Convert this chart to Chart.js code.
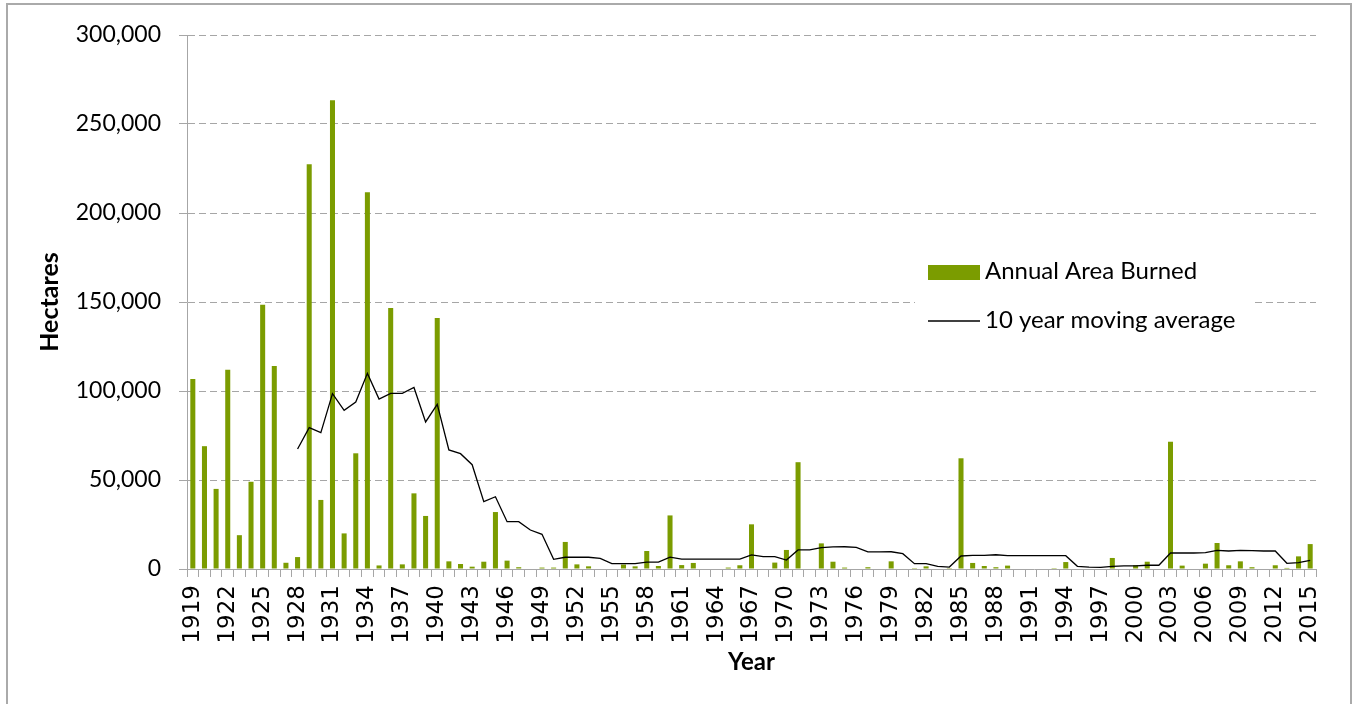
<!DOCTYPE html>
<html>
<head>
<meta charset="utf-8">
<script src="https://cdn.jsdelivr.net/npm/chart.js@4.4.1/dist/chart.umd.min.js"></script>
<style>
    html, body { margin: 0; padding: 0; background: #ffffff; }
    canvas { display: block; }
</style>
</head>
<body>
<canvas id="fireChart" width="1357" height="704"></canvas>
<script>

/* =========================
   DATA
========================= */

const years = [
    1919, 1920, 1921, 1922, 1923, 1924, 1925, 1926, 1927, 1928,
    1929, 1930, 1931, 1932, 1933, 1934, 1935, 1936, 1937, 1938,
    1939, 1940, 1941, 1942, 1943, 1944, 1945, 1946, 1947, 1948,
    1949, 1950, 1951, 1952, 1953, 1954, 1955, 1956, 1957, 1958,
    1959, 1960, 1961, 1962, 1963, 1964, 1965, 1966, 1967, 1968,
    1969, 1970, 1971, 1972, 1973, 1974, 1975, 1976, 1977, 1978,
    1979, 1980, 1981, 1982, 1983, 1984, 1985, 1986, 1987, 1988,
    1989, 1990, 1991, 1992, 1993, 1994, 1995, 1996, 1997, 1998,
    1999, 2000, 2001, 2002, 2003, 2004, 2005, 2006, 2007, 2008,
    2009, 2010, 2011, 2012, 2013, 2014, 2015
];

const areaBurned = [
    106700, 69000, 45000, 112000, 19000, 49000, 148500, 114000, 3500, 6700,
    227400, 38800, 263300, 20000, 65000, 211600, 2000, 146600, 2600, 42500,
    29800, 141000, 4300, 2800, 1300, 4100, 32000, 4700, 1000, 0,
    800, 800, 15200, 2600, 1500, 0, 0, 2500, 1500, 10100,
    1700, 30100, 2200, 3400, 0, 0, 800, 2100, 25100, 0,
    3600, 10700, 60000, 0, 14400, 4100, 800, 0, 1000, 0,
    4300, 0, 500, 1500, 0, 500, 62200, 3400, 1700, 1000,
    1900, 0, 0, 0, 500, 3900, 0, 0, 0, 6200,
    0, 2100, 4100, 0, 71500, 1900, 0, 3000, 14600, 2100,
    4300, 1000, 0, 2100, 600, 7100, 14000
];

const movingAverage = [
    null, null, null, null, null, null, null, null, null, 67400,
    79400, 76600, 98500, 89100, 93800, 109900, 95500, 98700, 98700, 102000,
    82600, 92500, 66900, 64800, 58600, 37800, 40600, 26600, 26600, 21900,
    19500, 5400, 6600, 6600, 6600, 6000, 3000, 3000, 3000, 3900,
    3900, 6700, 5600, 5600, 5600, 5600, 5600, 5600, 7900, 6900,
    6900, 5000, 10700, 10700, 12000, 12400, 12500, 12200, 9600, 9600,
    9700, 8600, 3000, 3000, 1500, 1100, 7300, 7700, 7700, 8000,
    7500, 7500, 7500, 7500, 7500, 7500, 1500, 1100, 900, 1500,
    1700, 1800, 2100, 2100, 9000, 9000, 9000, 9200, 10500, 10100,
    10500, 10300, 10100, 10100, 3200, 3600, 4900
];

const yTicks = [0, 50000, 100000, 150000, 200000, 250000, 300000];

const barLabel = 'Annual Area Burned';
const lineLabel = '10 year moving average';

/* =========================
   STYLE
========================= */

const BAR_COLOR = '#7b9c00';
const GRID_COLOR = '#a6a6a6';

Chart.defaults.font.family = 'Lato';
Chart.defaults.color = '#000000';

/* =========================
   PLUGINS
========================= */

const outerBorder = {
    id: 'outerBorder',
    beforeDraw(chart) {
        const ctx = chart.ctx;
        ctx.save();
        ctx.strokeStyle = '#aaaaaa';
        ctx.lineWidth = 2;
        ctx.strokeRect(7, 4, chart.width - 13, chart.height + 10);
        ctx.restore();
    }
};

const boxLegend = {
    id: 'boxLegend',
    afterDraw(chart) {
        const ctx = chart.ctx;
        const area = chart.chartArea;
        const x0 = area.left + 741;
        const y0 = area.top + 217;

        ctx.save();

        ctx.fillStyle = '#ffffff';
        ctx.fillRect(x0 - 13, y0 - 10, 340, 90);

        ctx.fillStyle = BAR_COLOR;
        ctx.fillRect(x0, y0 + 13, 52, 15);

        ctx.strokeStyle = '#000000';
        ctx.lineWidth = 1.3;
        ctx.beginPath();
        ctx.moveTo(x0, y0 + 69);
        ctx.lineTo(x0 + 52, y0 + 69);
        ctx.stroke();

        ctx.fillStyle = '#000000';
        ctx.font = '24px Lato';
        ctx.textBaseline = 'alphabetic';
        ctx.textAlign = 'left';
        ctx.fillText(barLabel, x0 + 57, y0 + 27);
        ctx.fillText(lineLabel, x0 + 57, y0 + 76);

        ctx.restore();
    }
};

/* =========================
   CHART
========================= */

const context = document.getElementById('fireChart').getContext('2d');

new Chart(context, {

    type: 'bar',

    data: {
        labels: years,
        datasets: [
            {
                type: 'line',
                label: lineLabel,
                data: movingAverage,
                borderColor: '#000000',
                borderWidth: 1.3,
                pointRadius: 0,
                tension: 0,
                spanGaps: false,
                order: 0
            },
            {
                type: 'bar',
                label: barLabel,
                data: areaBurned,
                backgroundColor: BAR_COLOR,
                barPercentage: 0.9,
                categoryPercentage: 0.48,
                order: 1
            }
        ]
    },

    options: {
        responsive: false,
        animation: false,
        devicePixelRatio: 1,

        layout: {
            padding: { left: 0, top: 35, right: 41, bottom: 0 }
        },

        plugins: {
            legend: { display: false },
            tooltip: { enabled: false }
        },

        scales: {

            x: {
                afterFit(scale) {
                    scale.height = 135;
                },
                grid: {
                    drawOnChartArea: false,
                    offset: true,
                    tickLength: 8,
                    tickColor: GRID_COLOR,
                    color: GRID_COLOR
                },
                border: {
                    color: GRID_COLOR,
                    width: 1
                },
                ticks: {
                    autoSkip: false,
                    minRotation: 90,
                    maxRotation: 90,
                    padding: 8,
                    color: '#000000',
                    font: { family: 'DejaVu Sans', size: 23 },
                    callback: (value, index) => (index % 3 === 0 ? String(years[index]) : '')
                },
                title: {
                    display: true,
                    text: 'Year',
                    color: '#000000',
                    font: { family: 'Lato', size: 24, weight: 'bold' },
                    padding: { top: 0, bottom: 27 }
                }
            },

            y: {
                min: 0,
                max: 300000,
                afterFit(scale) {
                    scale.width = 187;
                },
                afterBuildTicks(scale) {
                    scale.ticks = yTicks.map(v => ({ value: v }));
                },
                grid: {
                    color: GRID_COLOR,
                    tickLength: 8,
                    tickColor: GRID_COLOR,
                    tickBorderDash: []
                },
                border: {
                    color: GRID_COLOR,
                    width: 1,
                    dash: [7, 4]
                },
                ticks: {
                    padding: 18,
                    color: '#000000',
                    font: { family: 'Lato', size: 23 },
                    callback: value => value.toLocaleString('en-US')
                },
                title: {
                    display: true,
                    text: 'Hectares',
                    color: '#000000',
                    font: { family: 'Lato', size: 25, weight: 'bold' },
                    padding: { top: 35, bottom: 0 }
                }
            }
        }
    },

    plugins: [outerBorder, boxLegend]
});
</script>
</body>
</html>
